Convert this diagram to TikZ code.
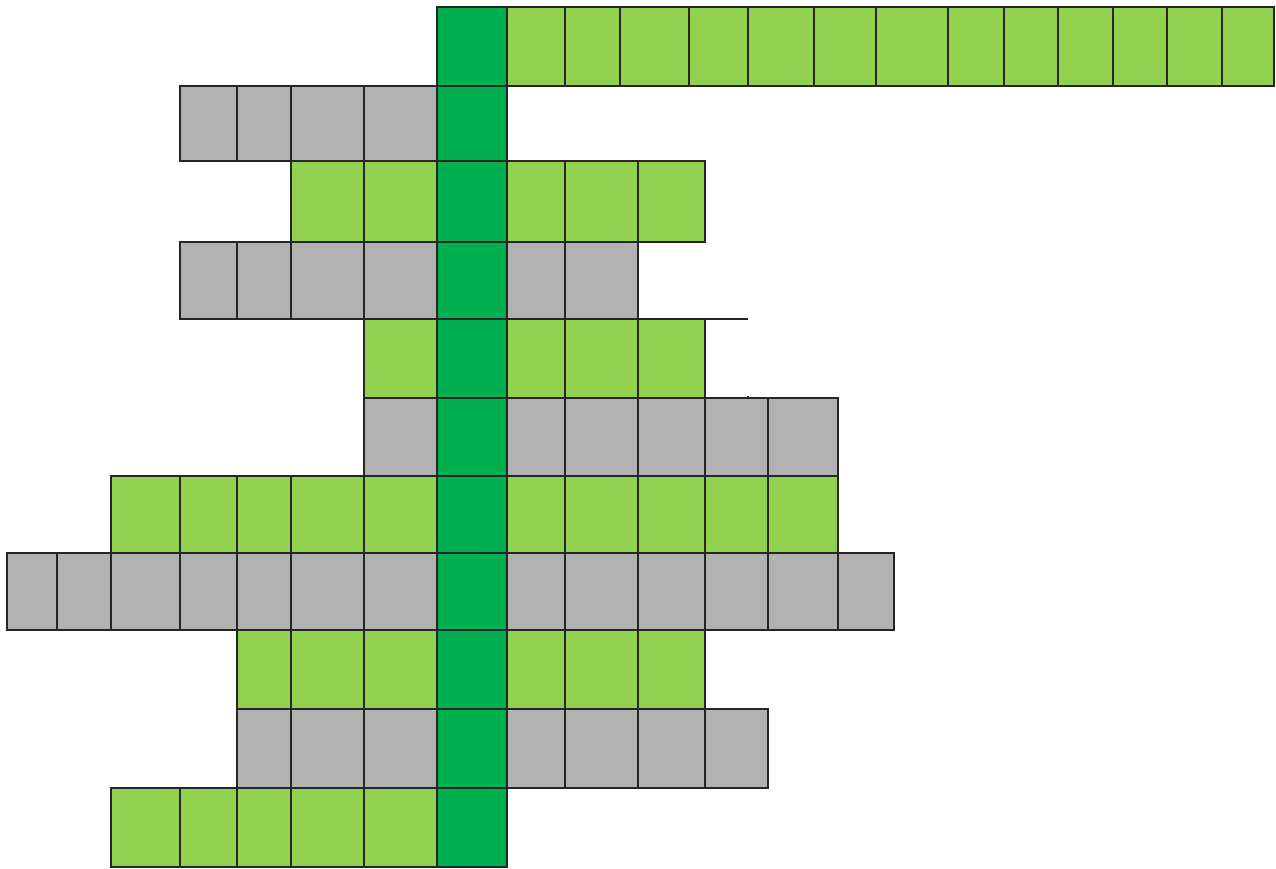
\documentclass[tikz,border=0pt]{standalone}
\definecolor{lg}{HTML}{92D050}
\definecolor{dg}{HTML}{00B050}
\definecolor{gr}{HTML}{B2B2B2}
\tikzset{cellbox/.style={draw=black!85,line width=1pt}}
\newcommand{\mycells}[4]{%
  \foreach \a/\b in {#4} {\path[cellbox,fill=#1] (\a,#2) rectangle (\b,#3);}}
\begin{document}
\begin{tikzpicture}[x=0.75pt,y=-0.75pt]
\useasboundingbox (0,0) rectangle (1276,868);
% row 0
\mycells{lg}{7}{86}{507/565,565/620,620/689,689/748,748/814,814/876,876/948,948/1004,1004/1058,1058/1113,1113/1167,1167/1222,1222/1274}
% row 1
\mycells{gr}{86}{161}{180/237,237/291,291/364,364/437}
% row 2
\mycells{lg}{161}{242}{291/364,364/437,507/565,565/638,638/705}
% row 3
\mycells{gr}{242}{319}{180/237,237/291,291/364,364/437,507/565,565/638}
% row 4
\mycells{lg}{319}{398}{364/437,507/565,565/638,638/705}
% row 5
\mycells{gr}{398}{476}{364/437,507/565,565/638,638/705,705/768,768/838}
% row 6
\mycells{lg}{476}{553}{111/180,180/237,237/291,291/364,364/437,507/565,565/638,638/705,705/768,768/838}
% row 7
\mycells{gr}{553}{630}{7/57,57/111,111/180,180/237,237/291,291/364,364/437,507/565,565/638,638/705,705/768,768/838,838/894}
% row 8
\mycells{lg}{630}{709}{237/291,291/364,364/437,507/565,565/638,638/705}
% row 9
\mycells{gr}{709}{788}{237/291,291/364,364/437,507/565,565/638,638/705,705/768}
% row 10
\mycells{lg}{788}{867}{111/180,180/237,237/291,291/364,364/437}
% dark green column
\foreach \ya/\yb in {7/86,86/161,161/242,242/319,319/398,398/476,476/553,553/630,630/709,709/788,788/867}
  {\path[cellbox,fill=dg] (437,\ya) rectangle (507,\yb);}
% extra strokes
\draw[cellbox] (638,319) -- (748,319);
\draw[cellbox] (748,396) -- (748,399);
\end{tikzpicture}
\end{document}
